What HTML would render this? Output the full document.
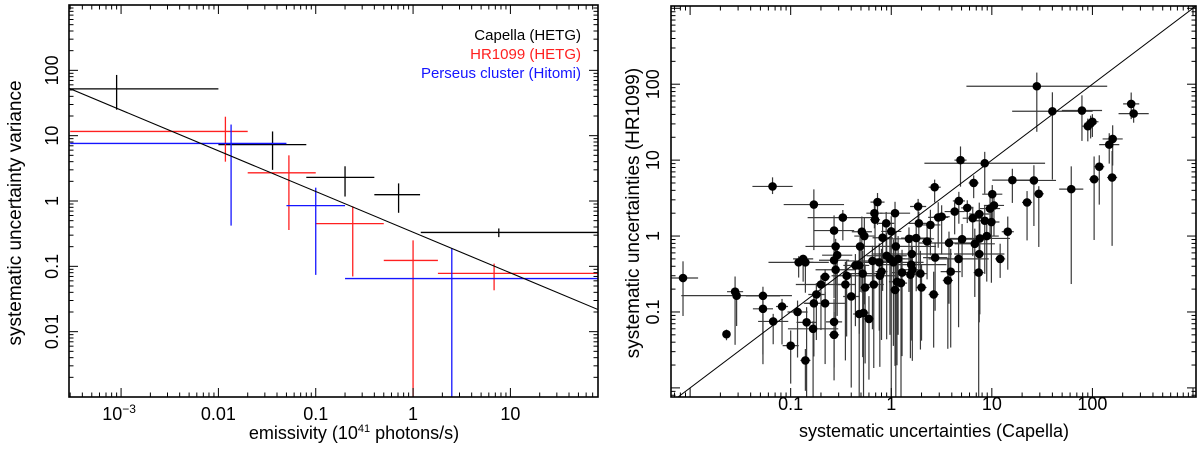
<!DOCTYPE html>
<html><head><meta charset="utf-8">
<style>
html,body{margin:0;padding:0;background:#fff;width:1200px;height:450px;overflow:hidden;}
svg{display:block;font-family:"Liberation Sans",sans-serif;}
</style></head>
<body>
<svg id="fig" width="1200" height="450" viewBox="0 0 1200 450" xmlns="http://www.w3.org/2000/svg" overflow="hidden">
<g id="left"></g>
<g id="right"></g>
</svg>
<script>
// ---------- LEFT PANEL DATA ----------
const capX=[0.0009,0.036,0.2,0.71,7.6];
const capY=[52,7.3,2.3,1.25,0.33];
const capXlo=[0.0003,0.01,0.08,0.4,1.2];
const capXhi=[0.01,0.08,0.4,1.18,80];
const capYlo=[25,3,1.17,0.66,0.28];
const capYhi=[85,11.6,3.4,1.86,0.38];

const hrX=[0.0118,0.053,0.24,1.0,6.8];
const hrY=[11.6,2.7,0.45,0.123,0.078];
const hrXlo=[0.0003,0.02,0.1,0.5,1.8];
const hrXhi=[0.02,0.1,0.5,1.8,80];
const hrYlo=[4,0.36,0.07,0.0005,0.043];
const hrYhi=[19.5,5,0.83,0.25,0.11];

const perX=[0.0135,0.1,2.5];
const perY=[7.6,0.85,0.065];
const perXlo=[0.0003,0.05,0.2];
const perXhi=[0.05,0.2,80];
const perYlo=[0.42,0.074,0.0005];
const perYhi=[14.8,1.6,0.19];

const fitNorm=[0.333];   // value at x=1
const fitSlope=[-0.623];

const leftXTicks=[0.001,0.01,0.1,1,10];
const leftXTickLabels=["10","0.01","0.1","1","10"];
const leftYTicks=[0.01,0.1,1,10,100];
const leftYTickLabels=["0.01","0.1","1","10","100"];

// ---------- RIGHT PANEL DATA ----------
const sx=[0.0085,0.023,0.028,0.029,0.053,0.053,0.066,0.067,0.082,0.1,
0.117,0.12,0.133,0.14,0.14,0.144,0.167,0.17,0.17,0.18,
0.2,0.22,0.22,0.27,0.27,0.28,0.28,0.27,0.27,0.29,
0.33,0.35,0.36,0.4,0.44,0.48,0.49,0.48,0.51,0.52,
0.53,0.54,0.55,0.6,0.65,0.67,0.68,0.69,0.73,0.76,
0.77,0.8,0.82,0.89,0.9,0.97,1.0,1.05,1.09,1.09,
1.11,1.14,1.17,1.25,1.28,1.5,1.55,1.58,1.6,1.62,
1.77,1.85,1.88,1.95,2.0,2.27,2.45,2.64,2.7,2.73,
2.93,3.17,3.65,3.75,3.9,4.27,4.67,4.7,4.88,5.06,
5.7,6.46,6.6,6.77,7.4,7.5,7.6,7.5,8.5,8.5,
8.9,9.6,9.9,10.1,10.5,12.1,14.4,16,22.4,26.2,
28,29.3,40,61.6,78.7,90,96,100,104,117,
147,159,157,243,257];
const sy=[0.28,0.051,0.185,0.164,0.163,0.11,4.5,0.075,0.118,0.036,
0.1,0.45,0.5,0.45,0.023,0.073,0.06,2.6,0.13,0.17,
0.23,0.29,0.13,1.18,0.48,0.73,0.36,0.074,0.05,0.56,
1.75,0.23,0.3,0.16,0.41,0.41,0.73,0.094,1.14,0.32,
0.097,1.0,0.21,0.081,0.47,0.23,2.0,1.64,2.8,0.45,
0.3,0.34,0.95,1.47,0.55,0.5,1.15,0.45,2.0,0.195,
0.73,0.25,0.5,0.24,0.33,0.92,0.31,0.42,0.58,0.36,
0.94,2.45,1.47,0.32,0.21,0.85,1.4,0.17,4.4,0.52,
1.76,1.8,0.26,0.81,0.34,2.1,0.5,2.9,10,0.91,
2.35,1.72,5,0.79,0.33,0.58,0.93,1.95,1.59,9.1,
1.0,2.3,1.53,3.56,2.53,0.5,1.14,5.45,2.77,5.4,
94,3.6,44,4.15,45,28,30.6,32,5.6,8.2,
16,19,5.9,55,41];
const exd=[0.15,0.04,0.08,0.55,0.17,0.1,0.2,0.15,0.06,0.08,
0.1,0.3,0.1,0.08,0.05,0.1,0.25,0.3,0.1,0.08,
0.25,0.05,0.2,0.2,0.15,0.3,0.2,0.08,0.05,0.15,
0.35,0.1,0.15,0.08,0.12,0.1,0.5,0.06,0.1,0.15,
0.06,0.1,0.05,0.05,0.25,0.1,0.08,0.05,0.07,0.1,
0.15,0.06,0.1,0.08,0.2,0.15,0.1,0.3,0.15,0.05,
0.4,0.08,0.12,0.06,0.1,0.25,0.1,0.35,0.4,0.1,
0.15,0.08,0.1,0.06,0.05,0.05,0.1,0.05,0.06,0.12,
0.1,0.08,0.05,0.3,0.1,0.1,0.3,0.06,0.06,0.15,
0.06,0.1,0.05,0.2,0.05,0.25,0.3,0.1,0.1,0.6,
0.12,0.1,0.08,0.1,0.1,0.05,0.06,0.2,0.05,0.22,
0.7,0.05,0.4,0.12,0.2,0.06,0.06,0.06,0.05,0.05,
0.1,0.1,0.05,0.08,0.15];
const eyu=[0.22,0.06,0.2,0.1,0.12,0.15,0.12,0.1,0.1,0.2,
0.15,0.08,0.05,0.05,0.15,0.2,0.1,0.2,0.15,0.15,
0.12,0.1,0.15,0.2,0.15,0.1,0.25,0.3,0.3,0.15,
0.1,0.3,0.2,0.3,0.15,0.2,0.15,0.3,0.2,0.3,
0.3,0.25,0.3,0.3,0.2,0.3,0.12,0.2,0.12,0.25,
0.3,0.3,0.2,0.15,0.3,0.3,0.2,0.3,0.15,0.4,
0.2,0.3,0.3,0.3,0.3,0.15,0.3,0.25,0.25,0.3,
0.2,0.1,0.15,0.3,0.3,0.2,0.2,0.3,0.1,0.2,
0.2,0.15,0.3,0.15,0.3,0.15,0.25,0.12,0.18,0.2,
0.1,0.15,0.1,0.2,0.3,0.25,0.2,0.15,0.2,0.15,
0.25,0.15,0.2,0.12,0.1,0.2,0.2,0.15,0.15,0.2,
0.18,0.1,0.25,0.3,0.2,0.1,0.1,0.1,0.3,0.15,
0.15,0.18,0.35,0.15,0.1];
const eyd=[0.5,0.08,0.7,0.4,0.9,0.6,0.1,0.3,0.5,0.5,
0.6,0.2,0.3,0.4,0.4,3,3,0.6,0.7,0.6,
0.6,0.4,0.8,0.3,0.5,0.5,0.9,0.6,0.6,0.8,
0.3,1.0,0.8,1.2,0.8,0.9,0.6,1.2,0.8,1.1,
1.5,0.9,1.0,0.8,0.9,1.1,0.2,0.5,0.3,0.9,
1.2,0.9,0.7,0.4,1.1,1.0,3,1.1,0.6,1.0,
3,1.1,1.0,3,1.1,0.7,1.1,1.0,1.0,1.2,
0.7,0.2,0.6,1.0,0.7,0.5,0.4,0.7,0.2,0.7,
0.4,0.5,0.9,0.8,1.0,0.3,0.9,0.3,0.35,0.5,
0.2,0.5,0.2,0.7,3,0.9,1.0,0.5,0.7,0.4,
0.6,0.4,0.8,0.35,0.4,0.25,0.5,0.3,0.5,0.6,
0.6,0.7,0.9,1.25,0.4,0.2,0.2,0.2,0.8,0.5,
0.25,0.35,0.9,0.2,0.12];

const rightXTicks=[0.1,1,10,100];
const rightXTickLabels=["0.1","1","10","100"];
const rightYTicks=[0.1,1,10,100];
const rightYTickLabels=["0.1","1","10","100"];

// ---------- helpers ----------
const NS="http://www.w3.org/2000/svg";
function mk(parent,tag,attrs){const e=document.createElementNS(NS,tag);for(const k in attrs)e.setAttribute(k,attrs[k]);parent.appendChild(e);return e;}
function logScale(d0,d1,p0,p1){const a=Math.log10(d0),b=Math.log10(d1);return v=>p0+(Math.log10(v)-a)/(b-a)*(p1-p0);}
function clampP(v,a,b){return Math.min(Math.max(v,Math.min(a,b)),Math.max(a,b));}

function drawFrame(g,x0,y0,x1,y1,xd,yd,sxF,syF){
  const fr=mk(g,'rect',{x:x0,y:y0,width:x1-x0,height:y1-y0,fill:'none',stroke:'#000','stroke-width':1.6});
  
  
  const tg=mk(g,'g',{stroke:'#000','stroke-width':1});
  
  
  for(let e=Math.floor(Math.log10(xd[0]));e<=Math.ceil(Math.log10(xd[1]));e++){
    for(let m=1;m<10;m++){const v=m*Math.pow(10,e);if(v<xd[0]||v>xd[1])continue;const p=sxF(v);const L=m===1?9:4.5;
      mk(tg,'line',{x1:p,x2:p,y1:y1,y2:y1-L});mk(tg,'line',{x1:p,x2:p,y1:y0,y2:y0+L});}
  }
  for(let e=Math.floor(Math.log10(yd[0]));e<=Math.ceil(Math.log10(yd[1]));e++){
    for(let m=1;m<10;m++){const v=m*Math.pow(10,e);if(v<yd[0]||v>yd[1])continue;const p=syF(v);const L=m===1?9:4.5;
      mk(tg,'line',{y1:p,y2:p,x1:x0,x2:x0+L});mk(tg,'line',{y1:p,y2:p,x1:x1,x2:x1-L});}
  }
}
function errBar(g,color,w,xa,xb,yy,xx,ya,yb,name,box){
  const gg=mk(g,'g',{stroke:color,'stroke-width':w});
  
  
  mk(gg,'line',{x1:clampP(xa,box[0],box[2]),x2:clampP(xb,box[0],box[2]),y1:yy,y2:yy});
  mk(gg,'line',{x1:xx,x2:xx,y1:clampP(ya,box[1],box[3]),y2:clampP(yb,box[1],box[3])});
  return gg;
}

// ---------- LEFT PANEL ----------
(function(){
  const g=document.getElementById('left');
  const X0=69,X1=598,Y0=5,Y1=397;
  const box=[X0,Y0,X1,Y1];
  const xd=[Math.pow(10,-3.535),Math.pow(10,1.9)], yd=[0.001,1000];
  const sxF=logScale(xd[0],xd[1],X0,X1), syF=logScale(yd[0],yd[1],Y1,Y0);
  const clip=mk(g,'clipPath',{id:'clipL'});mk(clip,'rect',{x:X0,y:Y0,width:X1-X0,height:Y1-Y0});
  const pg=mk(g,'g',{'clip-path':'url(#clipL)'});
  
  
  const series=[[capX,capY,capXlo,capXhi,capYlo,capYhi,'#000','capella-point'],
                [hrX,hrY,hrXlo,hrXhi,hrYlo,hrYhi,'#ff2020','hr1099-point'],
                [perX,perY,perXlo,perXhi,perYlo,perYhi,'#1515ff','perseus-point']];
  for(const s of series){
    for(let i=0;i<s[0].length;i++){
      errBar(pg,s[6],1.3,sxF(s[2][i]),sxF(s[3][i]),syF(s[1][i]),sxF(s[0][i]),syF(s[4][i]),syF(s[5][i]),s[7],box);
    }
  }
  const fx0=xd[0],fx1=xd[1];
  const fit=mk(pg,'line',{x1:sxF(fx0),y1:syF(fitNorm[0]*Math.pow(fx0,fitSlope[0])),x2:sxF(fx1),y2:syF(fitNorm[0]*Math.pow(fx1,fitSlope[0])),stroke:'#000','stroke-width':1.1});
  
  
  drawFrame(g,X0,Y0,X1,Y1,xd,yd,sxF,syF);
  leftXTicks.forEach((v,i)=>{
    const t=mk(g,'text',{x:sxF(v),y:420,'font-size':18,'text-anchor':'middle'});
    
    
    t.textContent=leftXTickLabels[i];
    if(i===0){const sp=mk(t,'tspan',{dy:-7,'font-size':12});sp.textContent='−3';t.setAttribute('x',sxF(v)-2);}
  });
  leftYTicks.forEach((v,i)=>{
    const t=mk(g,'text',{x:0,y:0,'font-size':18,'text-anchor':'middle',transform:`translate(58,${syF(v)}) rotate(-90)`});
    
    
    t.textContent=leftYTickLabels[i];
  });
  const xt=mk(g,'text',{x:354,y:439,'font-size':18,'text-anchor':'middle'});
  
  
  xt.textContent='emissivity (10';
  const sup=mk(xt,'tspan',{dy:-7,'font-size':11});sup.textContent='41';
  const rest=mk(xt,'tspan',{dy:7});rest.textContent=' photons/s)';
  const yt=mk(g,'text',{x:0,y:0,'font-size':19,'text-anchor':'middle',transform:'translate(21,213) rotate(-90)'});
  
  
  yt.textContent='systematic uncertainty variance';
  const legend=[['Capella (HETG)','#000',40],['HR1099 (HETG)','#ff2020',59],['Perseus cluster (Hitomi)','#1515ff',78]];
  legend.forEach(l=>{
    const t=mk(g,'text',{x:581,y:l[2],'font-size':15,'text-anchor':'end',fill:l[1]});
    
    
    t.textContent=l[0];
  });
})();

// ---------- RIGHT PANEL ----------
(function(){
  const g=document.getElementById('right');
  const X0=671,X1=1196,Y0=6,Y1=397;
  const box=[X0,Y0,X1,Y1];
  const xd=[Math.pow(10,-2.19),Math.pow(10,3.03)], yd=[Math.pow(10,-2.12),Math.pow(10,3.03)];
  const sxF=logScale(xd[0],xd[1],X0,X1), syF=logScale(yd[0],yd[1],Y1,Y0);
  const clip=mk(g,'clipPath',{id:'clipR'});mk(clip,'rect',{x:X0,y:Y0,width:X1-X0,height:Y1-Y0});
  const pg=mk(g,'g',{'clip-path':'url(#clipR)'});
  
  
  for(let i=0;i<sx.length;i++){
    const f=Math.pow(10,exd[i]);
    errBar(pg,'#3a3a3a',1.2,sxF(sx[i]/f),sxF(sx[i]*f),syF(sy[i]),sxF(sx[i]),syF(sy[i]/Math.pow(10,eyd[i])),syF(sy[i]*Math.pow(10,eyu[i])),'scatter-error-bar',box);
  }
  const lo=Math.max(xd[0],yd[0]),hi=Math.min(xd[1],yd[1]);
  const diag=mk(pg,'line',{x1:sxF(lo),y1:syF(lo),x2:sxF(hi),y2:syF(hi),stroke:'#000','stroke-width':1});
  
  
  for(let i=0;i<sx.length;i++){
    const c=mk(pg,'circle',{cx:sxF(sx[i]),cy:syF(sy[i]),r:4.3,fill:'#000'});
    
    
  }
  drawFrame(g,X0,Y0,X1,Y1,xd,yd,sxF,syF);
  rightXTicks.forEach((v,i)=>{
    const t=mk(g,'text',{x:sxF(v),y:410,'font-size':18,'text-anchor':'middle'});
    
    
    t.textContent=rightXTickLabels[i];
  });
  rightYTicks.forEach((v,i)=>{
    const t=mk(g,'text',{x:0,y:0,'font-size':18,'text-anchor':'middle',transform:`translate(659,${syF(v)}) rotate(-90)`});
    
    
    t.textContent=rightYTickLabels[i];
  });
  const xt=mk(g,'text',{x:934,y:437,'font-size':18,'text-anchor':'middle'});
  
  
  xt.textContent='systematic uncertainties (Capella)';
  const yt=mk(g,'text',{x:0,y:0,'font-size':19,'text-anchor':'middle',transform:'translate(639,213) rotate(-90)'});
  
  
  yt.textContent='systematic uncertainties (HR1099)';
})();
</script>
</body></html>
